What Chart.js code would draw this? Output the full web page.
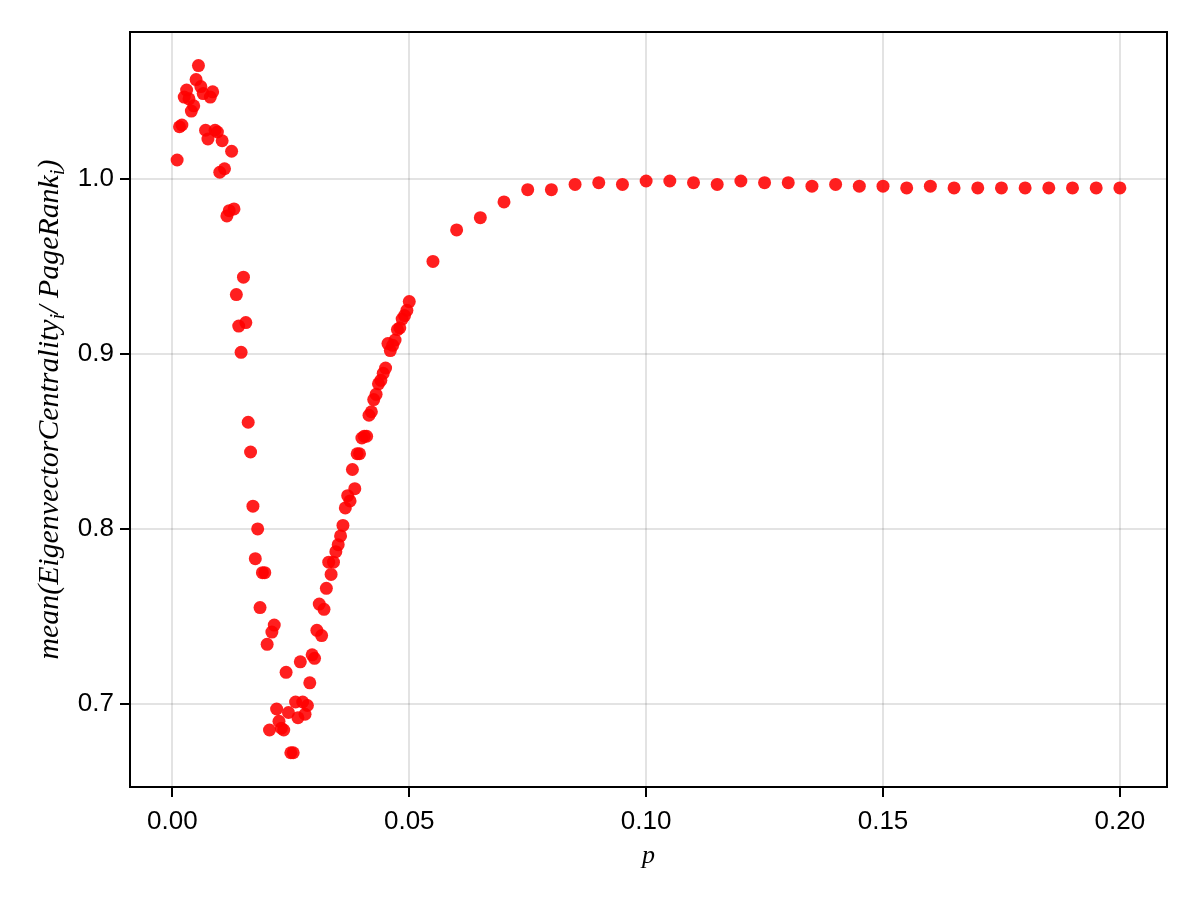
<!DOCTYPE html>
<html>
<head>
<meta charset="utf-8">
<script src="https://cdn.jsdelivr.net/npm/chart.js@4"></script>
<style>
    html, body { margin: 0; padding: 0; background: #fff; }
    #wrap { width: 1200px; height: 900px; }
</style>
</head>
<body>
<div id="wrap"><canvas id="chart" width="1200" height="900"></canvas></div>
<script>
// p values (x) and mean(EC_i / PR_i) (y)
const pValues = [
    0.001, 0.0015, 0.002, 0.0025, 0.003, 0.0035, 0.004, 0.0045, 0.005, 0.0055,
    0.006, 0.0065, 0.007, 0.0075, 0.008, 0.0085, 0.009, 0.0095, 0.01, 0.0105,
    0.011, 0.0115, 0.012, 0.0125, 0.013, 0.0135, 0.014, 0.0145, 0.015, 0.0155,
    0.016, 0.0165, 0.017, 0.0175, 0.018, 0.0185, 0.019, 0.0195, 0.02, 0.0205,
    0.021, 0.0215, 0.022, 0.0225, 0.023, 0.0235, 0.024, 0.0245, 0.025, 0.0255,
    0.026, 0.0265, 0.027, 0.0275, 0.028, 0.0285, 0.029, 0.0295, 0.03, 0.0305,
    0.031, 0.0315, 0.032, 0.0325, 0.033, 0.0335, 0.034, 0.0345, 0.035, 0.0355,
    0.036, 0.0365, 0.037, 0.0375, 0.038, 0.0385, 0.039, 0.0395, 0.04, 0.0405,
    0.041, 0.0415, 0.042, 0.0425, 0.043, 0.0435, 0.044, 0.0445, 0.045, 0.0455,
    0.046, 0.0465, 0.047, 0.0475, 0.048, 0.0485, 0.049, 0.0495, 0.05,
    0.055, 0.06, 0.065, 0.07, 0.075, 0.08, 0.085, 0.09, 0.095, 0.1,
    0.105, 0.11, 0.115, 0.12, 0.125, 0.13, 0.135, 0.14, 0.145, 0.15,
    0.155, 0.16, 0.165, 0.17, 0.175, 0.18, 0.185, 0.19, 0.195, 0.2
]
const ratioValues = [
    1.011, 1.030, 1.031, 1.047, 1.051, 1.046, 1.039, 1.042, 1.057, 1.065,
    1.053, 1.049, 1.028, 1.023, 1.047, 1.050, 1.028, 1.027, 1.004, 1.022,
    1.006, 0.979, 0.982, 1.016, 0.983, 0.934, 0.916, 0.901, 0.944, 0.918,
    0.861, 0.844, 0.813, 0.783, 0.800, 0.755, 0.775, 0.775, 0.734, 0.685,
    0.741, 0.745, 0.697, 0.690, 0.686, 0.685, 0.718, 0.695, 0.672, 0.672,
    0.701, 0.692, 0.724, 0.701, 0.694, 0.699, 0.712, 0.728, 0.726, 0.742,
    0.757, 0.739, 0.754, 0.766, 0.781, 0.774, 0.781, 0.787, 0.791, 0.796,
    0.802, 0.812, 0.819, 0.816, 0.834, 0.823, 0.843, 0.843, 0.852, 0.853,
    0.853, 0.865, 0.867, 0.874, 0.877, 0.883, 0.885, 0.889, 0.892, 0.906,
    0.902, 0.905, 0.908, 0.914, 0.915, 0.920, 0.922, 0.925, 0.930,
    0.953, 0.971, 0.978, 0.987, 0.994, 0.994, 0.997, 0.998, 0.997, 0.999,
    0.999, 0.998, 0.997, 0.999, 0.998, 0.998, 0.996, 0.997, 0.996, 0.996,
    0.995, 0.996, 0.995, 0.995, 0.995, 0.995, 0.995, 0.995, 0.995, 0.995
]
const xTicks = [0, 0.05, 0.1, 0.15, 0.2]
const yTicks = [0.7, 0.8, 0.9, 1.0]
const xLabel = 'p'
const yLabelParts = [
    ['mean(EigenvectorCentrality', false],
    ['i', true],
    ['/ PageRank', false],
    ['i', true],
    [')', false]
]

const tickFont = { family: '"Liberation Sans", Arial, sans-serif', size: 26 }
const gridColor = 'rgba(0,0,0,0.11)'

// frame on all four sides plus the math-style axis labels
const framePlugin = {
    id: 'frame',
    afterDraw(chart) {
        const { ctx, chartArea: a } = chart
        ctx.save()
        ctx.strokeStyle = '#000'
        ctx.lineWidth = 2
        ctx.strokeRect(a.left, a.top, a.right - a.left, a.bottom - a.top)

        ctx.fillStyle = '#000'
        ctx.font = 'italic 26px "Liberation Serif", serif'
        ctx.textAlign = 'center'
        ctx.textBaseline = 'middle'
        ctx.fillText(xLabel, (a.left + a.right) / 2, 856)

        // rotated y label, sized to span ~500px
        let size = 24
        const measure = s => {
            let w = 0
            for (const [txt, sub] of yLabelParts) {
                ctx.font = `italic ${sub ? s * 0.7 : s}px "Liberation Serif", serif`
                w += ctx.measureText(txt).width
            }
            return w
        }
        size = size * 500 / measure(size)
        const total = measure(size)
        ctx.translate(50, (a.top + a.bottom) / 2)
        ctx.rotate(-Math.PI / 2)
        ctx.textAlign = 'left'
        ctx.textBaseline = 'alphabetic'
        let x = -total / 2
        for (const [txt, sub] of yLabelParts) {
            ctx.font = `italic ${sub ? size * 0.7 : size}px "Liberation Serif", serif`
            ctx.fillText(txt, x, sub ? 8 + size * 0.2 : 8)
            x += ctx.measureText(txt).width
        }
        ctx.restore()
    }
}

new Chart(document.getElementById('chart'), {
    type: 'scatter',
    data: {
        datasets: [{
            data: pValues.map((p, i) => ({ x: p, y: ratioValues[i] })),
            backgroundColor: 'rgba(255,0,0,0.88)',
            borderWidth: 0,
            pointRadius: 6.5,
            pointHoverRadius: 6.5
        }]
    },
    options: {
        responsive: false,
        devicePixelRatio: 1,
        animation: false,
        layout: { padding: { left: 0, right: 33, top: 32, bottom: 0 } },
        plugins: {
            legend: { display: false },
            tooltip: { enabled: false }
        },
        scales: {
            x: {
                type: 'linear',
                min: -0.00895,
                max: 0.20995,
                afterBuildTicks: s => { s.ticks = xTicks.map(v => ({ value: v })) },
                afterFit: s => { s.height = 113 },
                ticks: {
                    font: tickFont,
                    color: '#000',
                    padding: 9,
                    maxRotation: 0,
                    callback: v => v.toFixed(2)
                },
                grid: { color: gridColor, lineWidth: 2, tickColor: '#000', tickLength: 10, tickWidth: 2 },
                border: { display: false }
            },
            y: {
                type: 'linear',
                min: 0.6524,
                max: 1.0842,
                afterBuildTicks: s => { s.ticks = yTicks.map(v => ({ value: v })) },
                afterFit: s => { s.width = 130 },
                ticks: {
                    font: tickFont,
                    color: '#000',
                    padding: 6,
                    callback: v => v.toFixed(1)
                },
                grid: { color: gridColor, lineWidth: 2, tickColor: '#000', tickLength: 10, tickWidth: 2 },
                border: { display: false }
            }
        }
    },
    plugins: [framePlugin]
})
</script>
</body>
</html>
